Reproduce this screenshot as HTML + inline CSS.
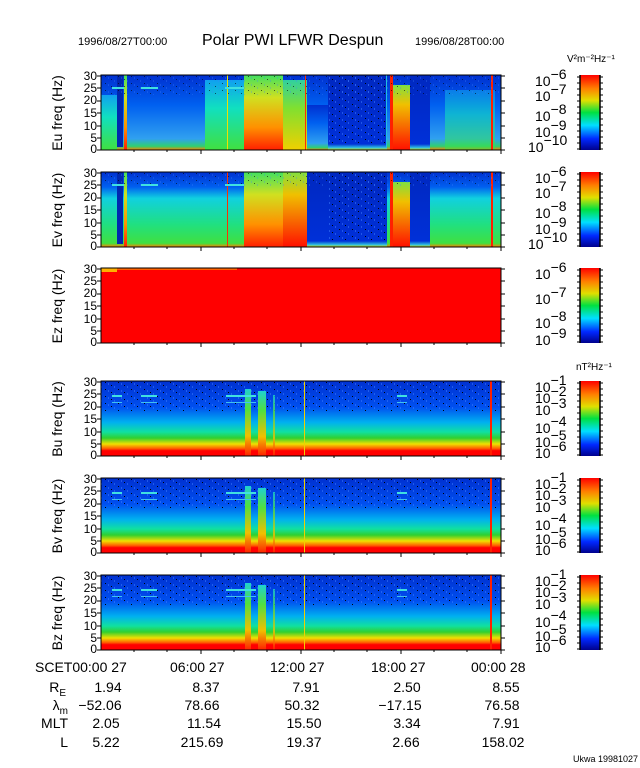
<!DOCTYPE html>
<html><head><meta charset="utf-8"><style>
body{margin:0;background:#fff}
svg{display:block}
text{font-family:"Liberation Sans",sans-serif;fill:#000}
</style></head><body>
<svg width="640" height="768" viewBox="0 0 640 768" xmlns="http://www.w3.org/2000/svg">
<defs>
<linearGradient id="jet" x1="0" y1="1" x2="0" y2="0">
<stop offset="0" stop-color="#00008c"/><stop offset="0.15" stop-color="#0028ff"/>
<stop offset="0.33" stop-color="#00e0ff"/><stop offset="0.5" stop-color="#00e040"/>
<stop offset="0.66" stop-color="#e0e000"/><stop offset="0.82" stop-color="#ff8000"/>
<stop offset="1" stop-color="#ff0000"/></linearGradient>
<linearGradient id="bspec" x1="0" y1="0" x2="0" y2="1">
<stop offset="0" stop-color="#0030d0"/><stop offset="0.35" stop-color="#0050f0"/>
<stop offset="0.55" stop-color="#00b0f0"/><stop offset="0.68" stop-color="#10e0a0"/>
<stop offset="0.76" stop-color="#30d030"/><stop offset="0.84" stop-color="#f0e000"/>
<stop offset="0.9" stop-color="#ff6000"/><stop offset="0.93" stop-color="#ff0000"/>
<stop offset="1" stop-color="#ff0000"/></linearGradient>
<linearGradient id="bluecy" x1="0" y1="0" x2="0" y2="1">
<stop offset="0" stop-color="#0030d0"/><stop offset="0.4" stop-color="#0060f0"/>
<stop offset="0.85" stop-color="#30a0f0"/><stop offset="0.95" stop-color="#30d070"/><stop offset="1" stop-color="#ff8000"/></linearGradient>
<linearGradient id="evgreen" x1="0" y1="0" x2="0" y2="1">
<stop offset="0" stop-color="#0030d0"/><stop offset="0.2" stop-color="#0060f0"/>
<stop offset="0.35" stop-color="#10d0e0"/><stop offset="0.7" stop-color="#20e080"/><stop offset="0.95" stop-color="#40e040"/><stop offset="1" stop-color="#ff8000"/></linearGradient>
<linearGradient id="cyg" x1="0" y1="0" x2="0" y2="1">
<stop offset="0" stop-color="#10a0f0"/><stop offset="0.4" stop-color="#10e0c0"/><stop offset="1" stop-color="#40e040"/></linearGradient>
<linearGradient id="hot" x1="0" y1="0" x2="0" y2="1">
<stop offset="0" stop-color="#40e060"/><stop offset="0.3" stop-color="#d0e020"/><stop offset="0.7" stop-color="#ff9000"/><stop offset="1" stop-color="#ff2000"/></linearGradient>
<linearGradient id="hot2" x1="0" y1="0" x2="0" y2="1">
<stop offset="0" stop-color="#30d0a0"/><stop offset="0.4" stop-color="#80e030"/><stop offset="1" stop-color="#f0d000"/></linearGradient>
<linearGradient id="hot3" x1="0" y1="0" x2="0" y2="1">
<stop offset="0" stop-color="#80e040"/><stop offset="0.3" stop-color="#f0c000"/><stop offset="1" stop-color="#ff1000"/></linearGradient>
<linearGradient id="burst" x1="0" y1="0" x2="0" y2="1">
<stop offset="0" stop-color="#20d0d0"/><stop offset="0.3" stop-color="#50e040"/><stop offset="0.7" stop-color="#f0c000"/><stop offset="1" stop-color="#ff2000"/></linearGradient>
<linearGradient id="darkb" x1="0" y1="0" x2="0" y2="1">
<stop offset="0" stop-color="#0028c0"/><stop offset="0.92" stop-color="#0030d8"/><stop offset="0.97" stop-color="#30c0e0"/><stop offset="1" stop-color="#e0e000"/></linearGradient>
<pattern id="noise" width="13" height="7" patternUnits="userSpaceOnUse">
<rect x="1" y="1" width="1" height="1" fill="#000"/><rect x="7" y="4" width="1" height="1" fill="#000"/><rect x="4" y="2" width="1" height="2" fill="#4080ff" opacity="0.5"/><rect x="10" y="5" width="1" height="2" fill="#4080ff" opacity="0.5"/>
</pattern>

<g id="eutex">
<rect x="101" y="0" width="400" height="75" fill="url(#bluecy)"/>
<rect x="101" y="20" width="16" height="55" fill="url(#cyg)"/>
<rect x="117" y="0" width="6" height="72" fill="#0028b0"/>
<rect x="124" y="0" width="3" height="75" fill="url(#hot)"/>
<rect x="205" y="5" width="39" height="70" fill="url(#cyg)"/>
<rect x="227" y="0" width="1" height="75" fill="#f0e000"/>
<rect x="244" y="0" width="39" height="75" fill="url(#hot)"/>
<rect x="283" y="5" width="24" height="70" fill="url(#hot2)"/>
<rect x="305" y="0" width="1" height="75" fill="#ff3000"/>
<rect x="307" y="30" width="21" height="45" fill="url(#bluecy)"/>
<rect x="328" y="0" width="59" height="75" fill="url(#darkb)"/>
<rect x="328" y="0" width="59" height="68" fill="url(#noise)"/>
<rect x="386" y="0" width="1" height="72" fill="#20c0e0"/>
<rect x="390" y="0" width="3" height="75" fill="#ff2000"/>
<rect x="393" y="10" width="17" height="65" fill="url(#hot3)"/>
<rect x="410" y="0" width="20" height="75" fill="url(#darkb)"/>
<rect x="445" y="15" width="50" height="60" fill="url(#cyg)" opacity="0.6"/>
<rect x="491" y="0" width="2" height="75" fill="#ff2000"/>
<rect x="101" y="0" width="400" height="20" fill="url(#noise)" opacity="0.6"/>
<rect x="112" y="12" width="12" height="2" fill="#40e0e0"/>
<rect x="141" y="12" width="17" height="2" fill="#40e0e0"/>
<rect x="225" y="12" width="19" height="2" fill="#40e0e0"/>
</g>
<g id="evtex">
<rect x="101" y="0" width="400" height="75" fill="url(#evgreen)"/>
<rect x="117" y="0" width="6" height="72" fill="#0028b0"/>
<rect x="124" y="0" width="3" height="75" fill="url(#hot)"/>
<rect x="227" y="0" width="1" height="75" fill="#ff3000"/>
<rect x="244" y="0" width="39" height="75" fill="url(#hot)"/>
<rect x="283" y="0" width="24" height="75" fill="url(#hot3)"/>
<rect x="307" y="0" width="21" height="75" fill="url(#darkb)"/>
<rect x="328" y="0" width="59" height="75" fill="url(#darkb)"/>
<rect x="328" y="0" width="59" height="68" fill="url(#noise)"/>
<rect x="390" y="0" width="3" height="75" fill="#ff2000"/>
<rect x="393" y="10" width="17" height="65" fill="url(#hot3)"/>
<rect x="410" y="0" width="20" height="75" fill="url(#darkb)"/>
<rect x="491" y="0" width="2" height="75" fill="#ff2000"/>
<rect x="101" y="0" width="400" height="15" fill="url(#noise)" opacity="0.6"/>
<rect x="112" y="12" width="12" height="2" fill="#40e0e0"/>
<rect x="141" y="12" width="17" height="2" fill="#40e0e0"/>
<rect x="225" y="12" width="19" height="2" fill="#40e0e0"/>
</g>
<g id="btex">
<rect x="101" y="0" width="400" height="75" fill="url(#bspec)"/>
<rect x="101" y="0" width="400" height="30" fill="url(#noise)"/>
<rect x="245" y="8" width="6" height="67" fill="url(#burst)"/>
<rect x="258" y="10" width="8" height="65" fill="url(#burst)"/>
<rect x="273" y="14" width="2" height="61" fill="url(#burst)" opacity="0.8"/>
<rect x="304" y="0" width="1" height="75" fill="#f0d000"/>
<rect x="490" y="0" width="2" height="75" fill="#ff2000"/>
<rect x="112" y="14" width="10" height="2" fill="#40e0e0"/>
<rect x="112" y="21" width="10" height="1" fill="#40c0f0"/>
<rect x="141" y="14" width="16" height="2" fill="#40e0e0"/>
<rect x="141" y="21" width="16" height="1" fill="#40c0f0"/>
<rect x="226" y="14" width="30" height="2" fill="#40e0e0"/>
<rect x="226" y="21" width="30" height="1" fill="#40c0f0"/>
<rect x="397" y="14" width="10" height="2" fill="#40e0e0"/>
<rect x="397" y="21" width="10" height="1" fill="#40c0f0"/>
</g>
<g id="ytk" font-size="12" text-anchor="end">
<text x="97" y="5">30</text><text x="97" y="17">25</text><text x="97" y="29">20</text><text x="97" y="42">15</text><text x="97" y="55">10</text><text x="97" y="67">5</text><text x="97" y="78">0</text>
<path d="M101 1h-4M101 13h-4M101 26h-4M101 38h-4M101 51h-4M101 63h-4M101 75h-4M501 1h4M501 13h4M501 26h4M501 38h4M501 51h4M501 63h4M501 75h4" stroke="#000"/>
<path d="M201 75v4M301 75v4M401 75v4M501 75v4M134 75v2M167 75v2M234 75v2M267 75v2M334 75v2M367 75v2M434 75v2M467 75v2" stroke="#000"/>
<rect x="101" y="0" width="400" height="75" fill="none" stroke="#000" stroke-width="1"/>
</g>
<g id="cb">
<rect x="580" y="0" width="20" height="75" fill="url(#jet)"/>
<path d="M580 0v75M600 0v75" stroke="#000" stroke-width="1.5"/>
<path d="M577 2h3M577 8h3M577 14h3M577 20h3M577 26h3M577 32h3M577 38h3M577 44h3M577 50h3M577 56h3M577 62h3M577 68h3M577 74h3M600 2h3M600 8h3M600 14h3M600 20h3M600 26h3M600 32h3M600 38h3M600 44h3M600 50h3M600 56h3M600 62h3M600 68h3M600 74h3" stroke="#000"/>
</g>
</defs>

<text x="78" y="45" font-size="11">1996/08/27T00:00</text>
<text x="202" y="45" font-size="16">Polar PWI LFWR Despun</text>
<text x="415" y="45" font-size="11">1996/08/28T00:00</text>
<text x="567" y="62" font-size="10">V²m⁻²Hz⁻¹</text>
<text x="576" y="370" font-size="10">nT²Hz⁻¹</text>

<!-- Eu -->
<g transform="translate(0,75)"><use href="#eutex"/><use href="#ytk"/><use href="#cb"/>
<text transform="translate(62,38) rotate(-90)" font-size="14" text-anchor="middle">Eu freq (Hz)</text>
<g font-size="14"><text x="535" y="11">10<tspan dy="-7">−6</tspan></text><text x="535" y="26">10<tspan dy="-7">−7</tspan></text><text x="535" y="46">10<tspan dy="-7">−8</tspan></text><text x="535" y="62">10<tspan dy="-7">−9</tspan></text><text x="528" y="77">10<tspan dy="-7">−10</tspan></text></g></g>
<!-- Ev -->
<g transform="translate(0,172)"><use href="#evtex"/><use href="#ytk"/><use href="#cb"/>
<text transform="translate(62,38) rotate(-90)" font-size="14" text-anchor="middle">Ev freq (Hz)</text>
<g font-size="14"><text x="535" y="11">10<tspan dy="-7">−6</tspan></text><text x="535" y="26">10<tspan dy="-7">−7</tspan></text><text x="535" y="46">10<tspan dy="-7">−8</tspan></text><text x="535" y="62">10<tspan dy="-7">−9</tspan></text><text x="528" y="77">10<tspan dy="-7">−10</tspan></text></g></g>
<!-- Ez -->
<g transform="translate(0,268)"><rect x="101" y="0" width="400" height="75" fill="#ff0000"/><rect x="101" y="0" width="16" height="4" fill="#ffb000"/><rect x="117" y="0" width="120" height="2" fill="#ff6000"/><use href="#ytk"/><use href="#cb"/>
<text transform="translate(62,38) rotate(-90)" font-size="14" text-anchor="middle">Ez freq (Hz)</text>
<g font-size="14"><text x="535" y="11">10<tspan dy="-7">−6</tspan></text><text x="535" y="36">10<tspan dy="-7">−7</tspan></text><text x="535" y="60">10<tspan dy="-7">−8</tspan></text><text x="535" y="77">10<tspan dy="-7">−9</tspan></text></g></g>
<!-- B panels -->
<g transform="translate(0,381)"><use href="#btex"/><use href="#ytk"/><use href="#cb"/>
<text transform="translate(62,38) rotate(-90)" font-size="14" text-anchor="middle">Bu freq (Hz)</text>
<g font-size="14"><text x="535" y="11">10<tspan dy="-7">−1</tspan></text><text x="535" y="22">10<tspan dy="-7">−2</tspan></text><text x="535" y="34">10<tspan dy="-7">−3</tspan></text><text x="535" y="52">10<tspan dy="-7">−4</tspan></text><text x="535" y="66">10<tspan dy="-7">−5</tspan></text><text x="535" y="77">10<tspan dy="-7">−6</tspan></text></g></g>
<g transform="translate(0,478)"><use href="#btex"/><use href="#ytk"/><use href="#cb"/>
<text transform="translate(62,38) rotate(-90)" font-size="14" text-anchor="middle">Bv freq (Hz)</text>
<g font-size="14"><text x="535" y="11">10<tspan dy="-7">−1</tspan></text><text x="535" y="22">10<tspan dy="-7">−2</tspan></text><text x="535" y="34">10<tspan dy="-7">−3</tspan></text><text x="535" y="52">10<tspan dy="-7">−4</tspan></text><text x="535" y="66">10<tspan dy="-7">−5</tspan></text><text x="535" y="77">10<tspan dy="-7">−6</tspan></text></g></g>
<g transform="translate(0,575)"><use href="#btex"/><use href="#ytk"/><use href="#cb"/>
<text transform="translate(62,38) rotate(-90)" font-size="14" text-anchor="middle">Bz freq (Hz)</text>
<g font-size="14"><text x="535" y="11">10<tspan dy="-7">−1</tspan></text><text x="535" y="22">10<tspan dy="-7">−2</tspan></text><text x="535" y="34">10<tspan dy="-7">−3</tspan></text><text x="535" y="52">10<tspan dy="-7">−4</tspan></text><text x="535" y="66">10<tspan dy="-7">−5</tspan></text><text x="535" y="77">10<tspan dy="-7">−6</tspan></text></g></g>

<!-- table -->
<g font-size="14">
<text x="35" y="672">SCET00:00 27</text>
<text x="170" y="672">06:00 27</text><text x="270" y="672">12:00 27</text><text x="371" y="672">18:00 27</text><text x="471" y="672">00:00 28</text>
<g text-anchor="end"><text x="66" y="692">R<tspan font-size="10" dy="4">E</tspan></text><text x="68" y="710">λ<tspan font-size="10" dy="4">m</tspan></text><text x="68" y="728">MLT</text><text x="68" y="747">L</text></g>
<g text-anchor="middle">
<text x="108" y="692">1.94</text><text x="206" y="692">8.37</text><text x="306" y="692">7.91</text><text x="407" y="692">2.50</text><text x="506" y="692">8.55</text>
<text x="100" y="710">−52.06</text><text x="202" y="710">78.66</text><text x="302" y="710">50.32</text><text x="400" y="710">−17.15</text><text x="502" y="710">76.58</text>
<text x="106" y="728">2.05</text><text x="204" y="728">11.54</text><text x="304" y="728">15.50</text><text x="407" y="728">3.34</text><text x="506" y="728">7.91</text>
<text x="106" y="747">5.22</text><text x="202" y="747">215.69</text><text x="304" y="747">19.37</text><text x="406" y="747">2.66</text><text x="503" y="747">158.02</text>
</g></g>
<text x="573" y="762" font-size="9">Ukwa 19981027</text>
</svg>
</body></html>
